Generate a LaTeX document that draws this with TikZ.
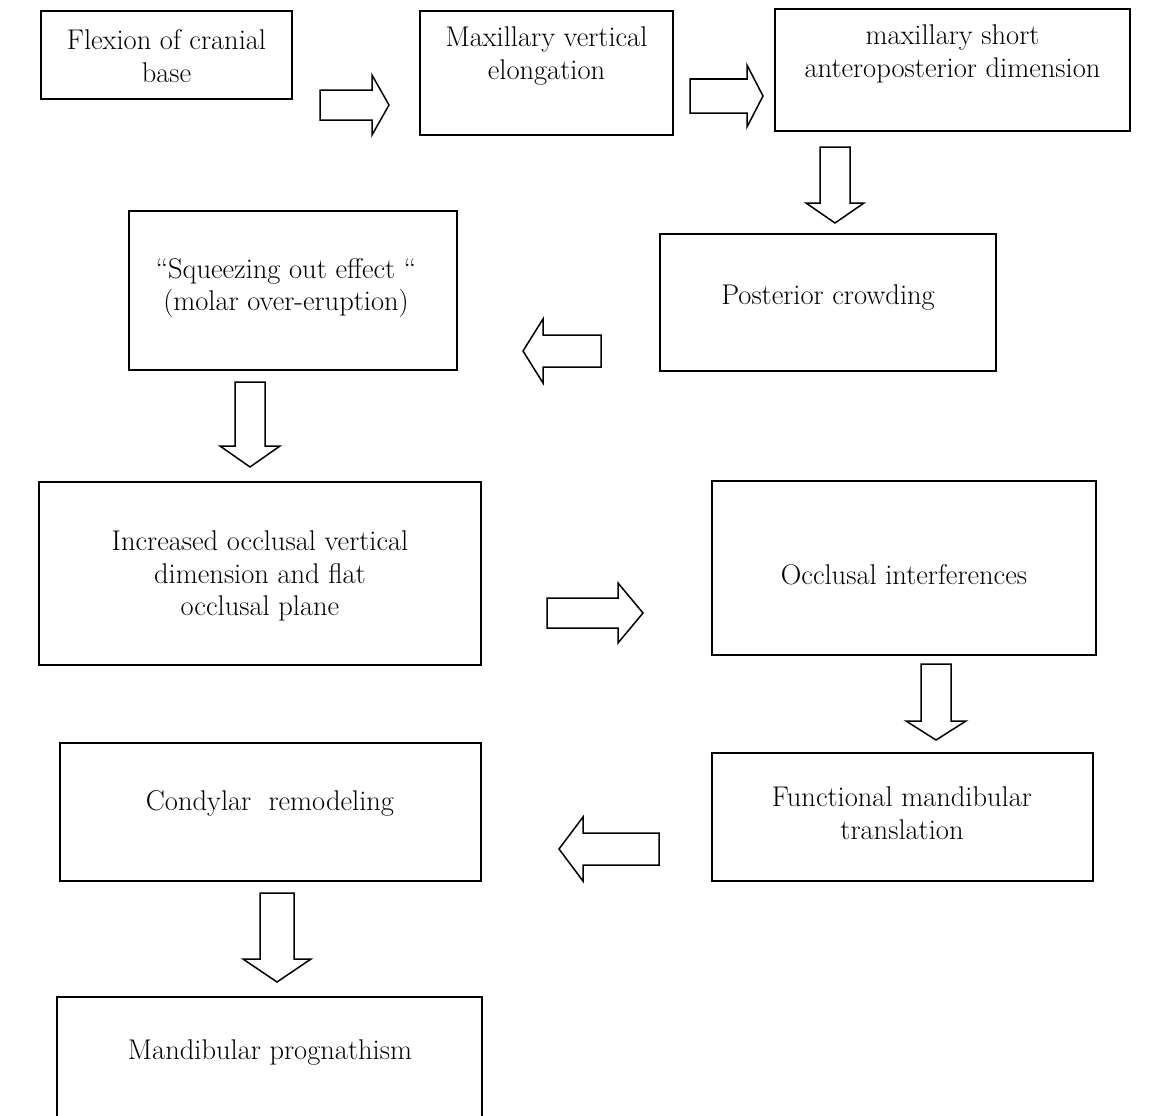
\documentclass[tikz,border=0pt]{standalone}
\begin{document}
\begin{tikzpicture}[x=1pt,y=-1pt,
  box/.style={draw=black, line width=1.6pt, inner sep=0pt, fill=none},
  lbl/.style={align=center, inner sep=0pt, font=\fontsize{28.5}{32.5}\selectfont},
  barrow/.style={draw=black, line width=1.5pt, line join=miter, fill=white}]
\useasboundingbox (0,0) rectangle (1151,1116);
\clip (0,0) rectangle (1151,1116);
\fill[white] (0,0) rectangle (1151,1116);

\newcommand\harrow[6]{% shaft end x, center y, head base x, tip x, half shaft, half head
  \draw[barrow] (#1,#2-#5) -- (#3,#2-#5) -- (#3,#2-#6) -- (#4,#2) -- (#3,#2+#6) -- (#3,#2+#5) -- (#1,#2+#5) -- cycle;}
\newcommand\varrow[6]{% shaft end y, center x, head base y, tip y, half shaft, half head
  \draw[barrow] (#2-#5,#1) -- (#2-#5,#3) -- (#2-#6,#3) -- (#2,#4) -- (#2+#6,#3) -- (#2+#5,#3) -- (#2+#5,#1) -- cycle;}

% boxes
\node[box, minimum width=251pt, minimum height=88pt] (b1) at (166.5,55) {};
\node[box, minimum width=253pt, minimum height=124pt] (b2) at (546.5,73) {};
\node[box, minimum width=355pt, minimum height=122pt] (b3) at (952.5,70) {};
\node[box, minimum width=336pt, minimum height=137pt] (b4) at (828,302.5) {};
\node[box, minimum width=328pt, minimum height=159pt] (b5) at (293,290.5) {};
\node[box, minimum width=442pt, minimum height=183pt] (b6) at (260,573.5) {};
\node[box, minimum width=384pt, minimum height=174pt] (b7) at (904,568) {};
\node[box, minimum width=381pt, minimum height=128pt] (b8) at (902.5,817) {};
\node[box, minimum width=421pt, minimum height=138pt] (b9) at (270.5,812) {};
\node[box, minimum width=425pt, minimum height=139pt] (b10) at (269.5,1066.5) {};

% labels
\node[lbl] (t1) at (166.5,56) {Flexion of cranial\\base};
\node[lbl] (t2) at (546.5,56) {Maxillary vertical\\elongation};
\node[lbl] (t3) at (952.5,54) {maxillary short\\anteroposterior dimension};
\node[lbl] (t4) at (828,298) {Posterior crowding};
\node[lbl] (t5) at (286,288) {``Squeezing out effect ``\\(molar over-eruption)};
\node[lbl] (t6) at (260,576) {Increased occlusal vertical\\dimension and flat\\occlusal plane};
\node[lbl] (t7) at (904,575) {Occlusal interferences};
\node[lbl] (t8) at (902,813) {Functional mandibular\\translation};
\node[lbl] (t9) at (270,803) {Condylar\ \ remodeling};
\node[lbl] (t10) at (270,1053) {Mandibular prognathism};

% block arrows
\harrow{320}{105}{372}{389}{15}{30}
\harrow{690}{96}{747}{763}{17}{31}
\varrow{147}{835}{203}{223}{15}{29}
\harrow{601}{351}{543}{523}{16}{32}
\varrow{382}{250}{446}{467}{15}{30}
\harrow{547}{613}{618}{643}{15}{30}
\varrow{664}{936}{721}{740}{15}{30}
\harrow{659}{849}{583}{559}{16}{32}
\varrow{893}{277}{959}{982}{17}{34}
\end{tikzpicture}
\end{document}
